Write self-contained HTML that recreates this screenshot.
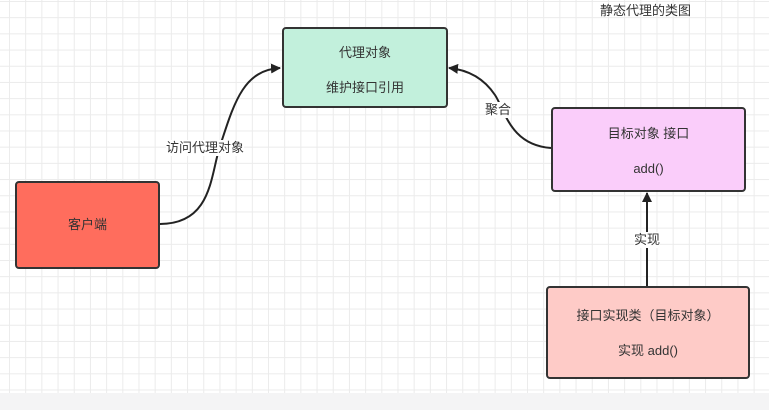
<!DOCTYPE html>
<html><head><meta charset="utf-8"><style>
body{margin:0;width:769px;height:410px;overflow:hidden;font-family:"Liberation Sans","Noto Sans CJK SC",sans-serif;}
.bg{position:absolute;left:0;top:0;width:769px;height:393px;background-color:#fff;
background-image:linear-gradient(#ebebeb 1px,transparent 1px),linear-gradient(90deg,#ebebeb 1px,transparent 1px);background-size:16.2px 16.2px;background-position:9px 1px;}
.foot{position:absolute;left:0;top:393px;width:769px;height:17px;background:#f4f4f5;}
.box{position:absolute;border:2px solid #333;border-radius:4px;box-sizing:border-box;font-size:13px;color:#333;text-align:center;}
.t{position:absolute;font-size:13px;color:#333;background:#fff;line-height:16px;}
</style></head><body>
<div class="bg"></div><div class="foot"></div>
<div class="t" style="left:600px;top:3px;background:none;">静态代理的类图</div>
<svg style="position:absolute;left:0;top:0" width="769" height="410">
<defs><marker id="a" markerWidth="10" markerHeight="10" refX="9" refY="5" orient="auto" markerUnits="userSpaceOnUse"><path d="M0,0 L10,5 L0,10 Z" fill="#222"/></marker></defs>
<path d="M160,224 C215,224 210,170 222,140 C235,100 245,70 280,68" fill="none" stroke="#222" stroke-width="2" marker-end="url(#a)"/>
<path d="M551,148 C510,145 505,110 495,95 C485,80 470,70 449,68" fill="none" stroke="#222" stroke-width="2" marker-end="url(#a)"/>
<path d="M647,286 L647,193" fill="none" stroke="#222" stroke-width="2" marker-end="url(#a)"/>
</svg>
<div class="t" style="left:166px;top:140px;">访问代理对象</div>
<div class="t" style="left:485px;top:102px;">聚合</div>
<div class="t" style="left:634px;top:232px;">实现</div>
<div class="box" style="left:15px;top:181px;width:145px;height:88px;background:#ff6d5d;line-height:84px;">客户端</div>
<div class="box" style="left:282px;top:27px;width:166px;height:81px;background:#c2f0dc;padding-top:14px;line-height:20px;">代理对象<br><div style="height:15px"></div>维护接口引用</div>
<div class="box" style="left:551px;top:107px;width:195px;height:85px;background:#facdfa;padding-top:15px;line-height:20px;">目标对象 接口<br><div style="height:15px"></div>add()</div>
<div class="box" style="left:546px;top:286px;width:204px;height:93px;background:#fecbc7;padding-top:18px;line-height:20px;">接口实现类（目标对象）<br><div style="height:15px"></div>实现 add()</div>
</body></html>
